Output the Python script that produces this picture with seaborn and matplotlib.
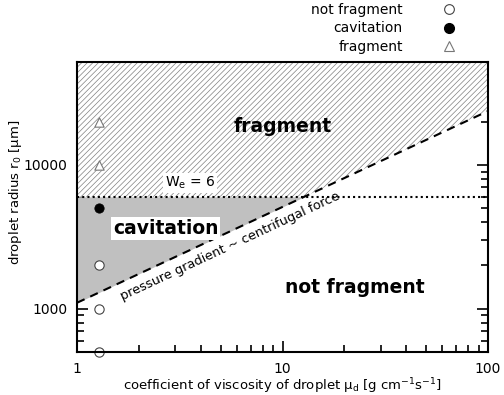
import matplotlib
matplotlib.use('Agg')
import matplotlib.pyplot as plt
import numpy as np
import seaborn as sns
from matplotlib.lines import Line2D

# measured points (viscosity, radius)
nf_mu = [1.28, 1.28, 1.28]
nf_r = [500, 1000, 2000]
cav_mu = [1.28]
cav_r = [5000]
frag_mu = [1.28, 1.28]
frag_r = [10000, 20000]

# boundaries
we_r = 6000                  # We = 6
line_mu = [1, 100]           # pressure gradient ~ centrifugal force
line_r = [1100, 23700]

xlim = (1, 100)
ylim = (500, 52000)

sns.set_theme(style='ticks')
plt.rcParams['font.family'] = ['DejaVu Sans']
plt.rcParams['mathtext.fontset'] = 'dejavusans'
plt.rcParams['hatch.linewidth'] = 0.5
plt.rcParams['hatch.color'] = '#808080'
for k in ['text.color', 'axes.labelcolor', 'xtick.color', 'ytick.color']:
    plt.rcParams[k] = 'black'

fig = plt.figure(figsize=(5.04, 3.95), dpi=100)
ax = fig.add_axes([77 / 504, 1 - 352 / 395, 411 / 504, 290 / 395])
ax.set_xscale('log')
ax.set_yscale('log')

# where the slanted line meets We = 6 (log-log straight line)
slope = np.log10(line_r[1] / line_r[0]) / np.log10(line_mu[1] / line_mu[0])
mu_int = line_mu[0] * (we_r / line_r[0]) ** (1 / slope)

# fragment region (hatched)
fx = [xlim[0], mu_int, xlim[1]]
flo = [we_r, we_r, line_r[1]]
ax.fill_between(fx, flo, [ylim[1]] * 3, facecolor='white', edgecolor='#808080',
                hatch='//////', linewidth=0)
# cavitation region (gray)
ax.fill_between([xlim[0], mu_int], [line_r[0], we_r], [we_r, we_r],
                color='#c0c0c0', linewidth=0)

ax.plot([xlim[0], xlim[1]], [we_r, we_r], ls=(0, (1, 1.5)), color='black', lw=1.5)
sns.lineplot(x=line_mu, y=line_r, ax=ax, color='black', lw=1.5, linestyle=(0, (4, 3)))

sns.scatterplot(x=nf_mu, y=nf_r, ax=ax, marker='o', s=45, facecolor='white',
                edgecolor='#444444', linewidth=0.8, zorder=5, clip_on=False)
sns.scatterplot(x=cav_mu, y=cav_r, ax=ax, marker='o', s=45, color='black',
                edgecolor='black', zorder=5)
sns.scatterplot(x=frag_mu, y=frag_r, ax=ax, marker='^', s=45, facecolor='white',
                edgecolor='#777777', linewidth=0.8, zorder=5)

ax.set_xlim(*xlim)
ax.set_ylim(*ylim)
ax.set_xticks([1, 10, 100])
ax.set_xticklabels(['1', '10', '100'])
ax.set_yticks([1000, 10000])
ax.set_yticklabels(['1000', '10000'])
ax.tick_params(which='both', direction='in', top=True, right=True, labelsize=10,
               width=1.2, color='black')
ax.tick_params(which='major', length=8, pad=7)
ax.tick_params(which='minor', length=5)
for s in ax.spines.values():
    s.set_linewidth(1.5)
    s.set_color('black')
    s.set_zorder(6)

ax.set_xlabel('coefficient of viscosity of droplet μ$_\\mathrm{d}$ [g cm$^{-1}$s$^{-1}$]',
              fontsize=9.5)
ax.set_ylabel('droplet radius r$_0$ [μm]', fontsize=9.5)
ax.xaxis.set_label_coords(0.5, -0.083)
ax.yaxis.set_label_coords(-0.13, 0.55)

ax.text(10, 18400, 'fragment', fontsize=13.5, fontweight='bold', ha='center', va='center')
ax.text(2.7, 3630, 'cavitation', fontsize=13.5, fontweight='bold', ha='center', va='center',
        bbox=dict(facecolor='white', edgecolor='none', pad=1.5))
ax.text(22.5, 1400, 'not fragment', fontsize=13.5, fontweight='bold', ha='center', va='center')
ax.text(3.55, 7480, r'W$_\mathrm{e}$ = 6', fontsize=10, ha='center', va='center',
        bbox=dict(facecolor='white', edgecolor='none', pad=1))
ax.text(5.55, 2700, 'pressure gradient ~ centrifugal force', fontsize=9.3,
        rotation=25, rotation_mode='anchor', ha='center', va='center')

handles = [
    Line2D([], [], ls='', marker='o', ms=7, mfc='white', mec='#444444', mew=0.8),
    Line2D([], [], ls='', marker='o', ms=7, mfc='black', mec='black'),
    Line2D([], [], ls='', marker='^', ms=7, mfc='white', mec='#777777', mew=0.8),
]
fig.legend(handles, ['not fragment', 'cavitation', 'fragment'], loc='upper right',
           bbox_to_anchor=(468 / 504, 1.025), frameon=False, markerfirst=False,
           fontsize=10, handlelength=1, handletextpad=2.8, labelspacing=0.35)

fig.savefig('out.png', dpi=100)
